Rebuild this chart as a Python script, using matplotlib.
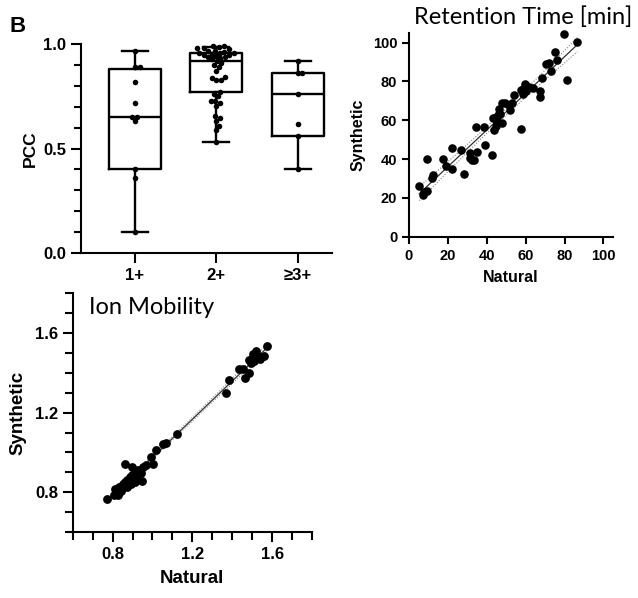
import numpy as np
import matplotlib
matplotlib.use("Agg")
import matplotlib.pyplot as plt

plt.rcParams['font.family'] = ['Liberation Sans', 'DejaVu Sans']
plt.rcParams['font.weight'] = 'bold'

# ---- data: PCC per charge state ----
charge = ["1+", "2+", "≥3+"]
pcc_1 = [0.97, 0.89, 0.89, 0.82, 0.72, 0.65, 0.65, 0.63, 0.40, 0.36, 0.10]
pcc_2 = [0.99, 0.99, 0.985, 0.98, 0.98, 0.975, 0.97, 0.97, 0.965, 0.96, 0.96,
         0.96, 0.955, 0.95, 0.95, 0.945, 0.94, 0.94, 0.935, 0.93, 0.92, 0.91,
         0.90, 0.89, 0.87, 0.845, 0.84, 0.83, 0.83, 0.77, 0.76, 0.75, 0.73,
         0.73, 0.72, 0.705, 0.655, 0.645, 0.63, 0.61, 0.59, 0.53]
pcc_3 = [0.92, 0.86, 0.86, 0.76, 0.62, 0.56, 0.40]
box_min = [0.10, 0.53, 0.40]
box_q1 = [0.40, 0.77, 0.56]
box_med = [0.65, 0.92, 0.76]
box_q3 = [0.88, 0.96, 0.86]
box_max = [0.97, 0.985, 0.92]

# ---- data: retention time (min) ----
rt_nat = [5.3, 7.1, 7.9, 9.1, 9.3, 11.7, 12.6, 17.6, 19.0, 21.9, 22.2, 27.0,
          28.4, 31.2, 31.2, 32.4, 33.6, 34.6, 34.9, 38.4, 39.2, 42.9, 43.0,
          43.5, 44.4, 44.8, 45.3, 45.8, 46.1, 47.0, 47.8, 47.8, 49.6, 51.3,
          52.2, 53.0, 53.9, 57.6, 57.8, 58.7, 58.7, 59.6, 60.0, 60.4, 61.6,
          63.9, 67.3, 67.6, 68.2, 70.7, 71.9, 73.1, 74.9, 76.2, 79.7, 81.1, 86.6]
rt_syn = [26.1, 21.3, 23.0, 23.5, 40.2, 30.4, 31.6, 39.9, 36.4, 45.5, 35.1, 44.8,
          32.1, 43.0, 40.7, 39.3, 39.5, 56.7, 43.8, 56.5, 47.1, 42.1, 61.3,
          55.0, 61.3, 57.0, 59.6, 62.5, 65.6, 63.1, 58.8, 68.7, 68.7, 67.7,
          65.1, 69.1, 72.9, 75.5, 55.3, 73.7, 75.9, 78.5, 75.0, 76.8, 77.1,
          76.8, 75.1, 72.2, 81.6, 88.8, 89.7, 85.4, 95.4, 90.9, 104.3, 80.8, 100.3]

# ---- data: ion mobility ----
im_nat = [0.771, 0.805, 0.814, 0.827, 0.834, 0.844, 0.851, 0.861, 0.864, 0.873,
          0.873, 0.881, 0.885, 0.890, 0.895, 0.898, 0.901, 0.912, 0.912, 0.918,
          0.929, 0.940, 0.945, 0.952, 0.966, 0.991, 1.003, 1.016, 1.054, 1.067,
          1.121, 1.368, 1.385, 1.436, 1.453, 1.465, 1.482, 1.482, 1.493, 1.504,
          1.510, 1.520, 1.527, 1.537, 1.558, 1.575]
im_syn = [0.766, 0.788, 0.817, 0.788, 0.825, 0.808, 0.842, 0.944, 0.851, 0.863,
          0.825, 0.842, 0.876, 0.842, 0.885, 0.927, 0.859, 0.896, 0.851, 0.876,
          0.910, 0.896, 0.859, 0.927, 0.935, 0.978, 0.944, 1.011, 1.042, 1.049,
          1.093, 1.296, 1.363, 1.417, 1.421, 1.375, 1.400, 1.465, 1.448, 1.493,
          1.460, 1.510, 1.485, 1.468, 1.485, 1.536]


def swarm_x(ax, x0, vals, d):
    # simple beeswarm in pixel space, d = dot diameter in px
    pts = ax.transData.transform(np.column_stack([np.full(len(vals), x0), vals]))
    cx, ys = pts[0, 0], pts[:, 1]
    order = np.argsort(ys)
    placed = []
    xs = np.zeros(len(vals))
    for i in order:
        cands = [0.0]
        for (px, py) in placed:
            dy = ys[i] - py
            if abs(dy) < d:
                dx = np.sqrt(d * d - dy * dy)
                cands += [px + dx, px - dx]
        cands.sort(key=abs)
        for c in cands:
            if all((c - px) ** 2 + (ys[i] - py) ** 2 >= d * d - 1e-6 for px, py in placed):
                break
        placed.append((c, ys[i]))
        xs[i] = c
    back = ax.transData.inverted().transform(np.column_stack([cx + xs, ys]))
    return back[:, 0]


def fit_band(x, y, xx):
    x, y = np.asarray(x), np.asarray(y)
    b, a = np.polyfit(x, y, 1)
    n = len(x)
    res = y - (a + b * x)
    s = np.sqrt(np.sum(res ** 2) / (n - 2))
    se = s * np.sqrt(1 / n + (xx - x.mean()) ** 2 / np.sum((x - x.mean()) ** 2))
    yy = a + b * xx
    return yy, yy - 2.0 * se, yy + 2.0 * se


def style(ax, lw=1.5):
    for s in ['top', 'right']:
        ax.spines[s].set_visible(False)
    for s in ['left', 'bottom']:
        ax.spines[s].set_linewidth(lw)
    ax.tick_params(width=lw, length=6, color='black')
    ax.tick_params(which='minor', width=lw, length=4)


fig = plt.figure(figsize=(6.38, 5.98), dpi=100)

# ---- box plot ----
ax1 = fig.add_axes([0.127, 0.577, 0.393, 0.349])
stats = [dict(whislo=box_min[i], q1=box_q1[i], med=box_med[i], q3=box_q3[i],
              whishi=box_max[i], label=charge[i]) for i in range(3)]
ax1.bxp(stats, positions=[0, 1, 2], widths=0.64, capwidths=0.32, showfliers=False,
        boxprops=dict(color='black', linewidth=1.7),
        medianprops=dict(color='black', linewidth=1.7),
        whiskerprops=dict(color='black', linewidth=1.7),
        capprops=dict(color='black', linewidth=1.7))
ax1.set_xlim(-0.66, 2.42)
ax1.set_ylim(0, 1.0)
ax1.set_yticks([0, 0.5, 1.0])
ax1.set_yticklabels(['0.0', '0.5', '1.0'])
ax1.set_yticks(np.arange(0.1, 1.0, 0.1), minor=True)
ax1.set_xticks([0, 1, 2])
ax1.set_xticklabels(charge)
style(ax1)
ax1.tick_params(labelsize=12, length=7)
ax1.tick_params(which='minor', length=5)
ax1.set_ylabel('PCC', fontsize=12.5, fontweight='bold', labelpad=4)
for i, vals in enumerate([pcc_1, pcc_2, pcc_3]):
    xs = swarm_x(ax1, i, vals, 4.8)
    ax1.scatter(xs, vals, s=16, color='black', zorder=3, clip_on=False, linewidths=0)

# ---- retention time ----
ax2 = fig.add_axes([0.641, 0.604, 0.320, 0.341])
xx = np.linspace(min(rt_nat), max(rt_nat), 50)
yy, lo, hi = fit_band(rt_nat, rt_syn, xx)
ax2.plot(xx, yy, color='#333333', lw=0.9)
ax2.plot(xx, lo, color='#888888', lw=0.8, ls=(0, (1, 1.5)))
ax2.plot(xx, hi, color='#888888', lw=0.8, ls=(0, (1, 1.5)))
ax2.scatter(rt_nat, rt_syn, s=38, color='black', zorder=3, clip_on=False, linewidths=0)
ax2.set_xlim(0, 105)
ax2.set_ylim(0, 105)
ax2.set_xticks(range(0, 101, 20))
ax2.set_yticks(range(0, 101, 20))
style(ax2)
ax2.tick_params(labelsize=10.5, length=5)
ax2.set_xlabel('Natural', fontsize=11.5, fontweight='bold', labelpad=5)
ax2.set_ylabel('Synthetic', fontsize=11.5, fontweight='bold', labelpad=5)

# ---- ion mobility ----
ax3 = fig.add_axes([0.114, 0.110, 0.375, 0.400])
xx = np.linspace(min(im_nat), max(im_nat), 50)
yy, lo, hi = fit_band(im_nat, im_syn, xx)
ax3.plot(xx, yy, color='#333333', lw=0.9)
ax3.plot(xx, lo, color='#888888', lw=0.8, ls=(0, (1, 1.5)))
ax3.plot(xx, hi, color='#888888', lw=0.8, ls=(0, (1, 1.5)))
ax3.scatter(im_nat, im_syn, s=40, color='black', zorder=3, clip_on=False, linewidths=0)
ax3.set_xlim(0.6, 1.8)
ax3.set_ylim(0.6, 1.8)
ax3.set_xticks([0.8, 1.2, 1.6])
ax3.set_yticks([0.8, 1.2, 1.6])
ax3.set_xticks(np.arange(0.6, 1.85, 0.1), minor=True)
ax3.set_yticks(np.arange(0.6, 1.85, 0.1), minor=True)
style(ax3)
ax3.tick_params(labelsize=12, length=7)
ax3.tick_params(which='minor', length=6)
ax3.set_xlabel('Natural', fontsize=13.5, fontweight='bold', labelpad=6)
ax3.set_ylabel('Synthetic', fontsize=13.5, fontweight='bold', labelpad=6)

# ---- titles and panel letter ----
fig.text(0.028, 0.955, 'B', fontsize=16, fontweight='bold', ha='center', va='center')
fig.text(0.82, 0.972, 'Retention Time [min]', fontsize=17, fontweight='normal',
         family=['Lato', 'DejaVu Sans'], ha='center', va='center')
fig.text(0.238, 0.485, 'Ion Mobility', fontsize=17, fontweight='normal',
         family=['Lato', 'DejaVu Sans'], ha='center', va='center')

fig.savefig('out.png', dpi=100)
